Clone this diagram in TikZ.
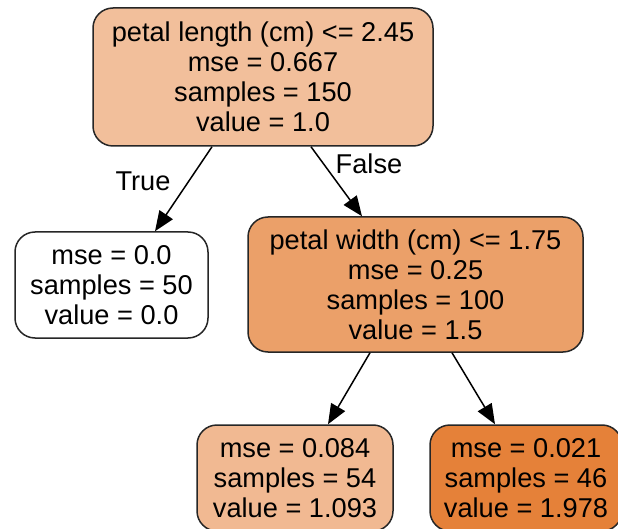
\documentclass[tikz,border=0pt]{standalone}
\usepackage{fontspec}
\setmainfont{Liberation Sans}
\usetikzlibrary{arrows.meta}
\definecolor{rootfill}{HTML}{F2BF9B}
\definecolor{midfill}{HTML}{EBA069}
\definecolor{blfill}{HTML}{F1B992}
\definecolor{brfill}{HTML}{E58139}
\definecolor{edgecol}{HTML}{262626}
\begin{document}
\begin{tikzpicture}[x=1pt,y=-1pt,
  treebox/.style={draw=edgecol, line width=1.5pt, rounded corners=20pt, align=center,
    font=\fontsize{27.2}{30}\selectfont, inner sep=0pt},
  treeedge/.style={draw=black, line width=1.5pt, -{Triangle[length=20pt,width=16pt]}},
  edgelabel/.style={font=\fontsize{27.2}{30}\selectfont, inner sep=0pt}]
\useasboundingbox (0,0) rectangle (618,529);
\clip (0,0) rectangle (618,529);
\node[treebox, fill=rootfill, minimum width=340pt, minimum height=138pt] (root) at (263,77)
  {petal length (cm) <= 2.45\\mse = 0.667\\samples = 150\\value = 1.0};
\node[treebox, fill=white, minimum width=193pt, minimum height=106pt] (leaf) at (111.5,285)
  {mse = 0.0\\samples = 50\\value = 0.0};
\node[treebox, fill=midfill, minimum width=335pt, minimum height=135pt] (mid) at (415.5,284.5)
  {petal width (cm) <= 1.75\\mse = 0.25\\samples = 100\\value = 1.5};
\node[treebox, fill=blfill, minimum width=196pt, minimum height=106pt] (bl) at (295,478)
  {mse = 0.084\\samples = 54\\value = 1.093};
\node[treebox, fill=brfill, minimum width=192pt, minimum height=106pt] (br) at (526,478)
  {mse = 0.021\\samples = 46\\value = 1.978};
\draw[treeedge] ([xshift=-51pt]root.south) -- ([xshift=43.5pt]leaf.north);
\draw[treeedge] ([xshift=48pt]root.south) -- ([xshift=-53.5pt]mid.north);
\draw[treeedge] ([xshift=-45.5pt]mid.south) -- ([xshift=33pt]bl.north);
\draw[treeedge] ([xshift=36.5pt]mid.south) -- ([xshift=-31pt]br.north);
\node[edgelabel] (truelbl) at (143,181) {True};
\node[edgelabel] (falselbl) at (369,164) {False};
\end{tikzpicture}
\end{document}
